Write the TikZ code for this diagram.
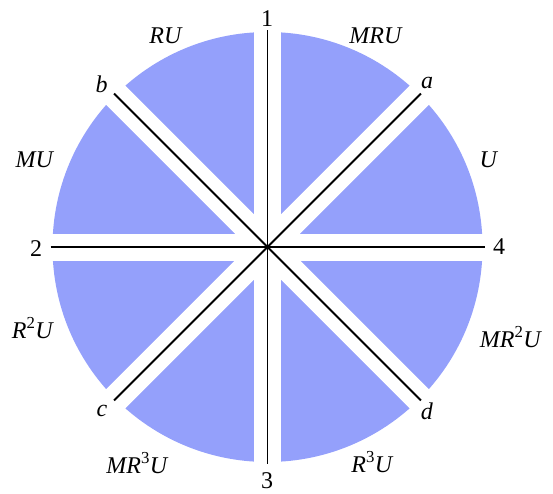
\documentclass[tikz,border=0pt]{standalone}
\usepackage{fontspec}
\setmainfont{Liberation Serif}
\usetikzlibrary{calc}
\definecolor{sect}{RGB}{148,160,251}
\begin{document}
\begin{tikzpicture}[x=1pt,y=-1pt,
  lab/.style={anchor=base,inner sep=0pt,font=\fontsize{24}{28}\selectfont},
  gap/.style={line width=27pt,white},
  axis/.style={line width=1.8pt,black}]
\useasboundingbox (0,0) rectangle (553,493);
\coordinate (O) at (267.5,247);
\fill[sect] (O) circle (215);
% white gaps
\foreach \a in {0,45,90,135}{
  \draw[gap] ($(O)+(\a:230)$) -- ($(O)+(\a+180:230)$);
}
% axes
\coordinate (t) at ($(O)+(0,-217)$);
\coordinate (bo) at ($(O)+(0,217)$);
\coordinate (l) at ($(O)+(-217,0)$);
\coordinate (r) at ($(O)+(217,0)$);
\coordinate (pa) at ($(O)+(153.4,-153.4)$);
\coordinate (pb) at ($(O)+(-153.4,-153.4)$);
\coordinate (pc) at ($(O)+(-153.4,153.4)$);
\coordinate (pd) at ($(O)+(153.4,153.4)$);
\draw[axis] (t) -- (bo);
\draw[axis] (l) -- (r);
\draw[axis] (pa) -- (pc);
\draw[axis] (pb) -- (pd);
% axis labels
\node[lab] (n1) at (267,26) {1};
\node[lab] (n2) at (36,256) {2};
\node[lab,text depth=0pt] (n3) at (267,488) {3};
\node[lab] (n4) at (499,254) {4};
\node[lab] (na) at (427,88) {\textit{a}};
\node[lab] (nb) at (101.5,92) {\textit{b}};
\node[lab] (nc) at (102,416) {\textit{c}};
\node[lab] (nd) at (427,419) {\textit{d}};
% sector labels
\node[lab] (s1) at (166,43) {\textit{RU}};
\node[lab] (s2) at (376,43) {\textit{MRU}};
\node[lab] (s3) at (489,167) {\textit{U}};
\node[lab] (s4) at (35,167) {\textit{MU}};
\node[lab] (s5) at (33,338) {\textit{R}\textsuperscript{2}\textit{U}};
\node[lab] (s6) at (511,347) {\textit{MR}\textsuperscript{2}\textit{U}};
\node[lab] (s7) at (137.5,473) {\textit{MR}\textsuperscript{3}\textit{U}};
\node[lab] (s8) at (372.5,472) {\textit{R}\textsuperscript{3}\textit{U}};
\end{tikzpicture}
\end{document}
